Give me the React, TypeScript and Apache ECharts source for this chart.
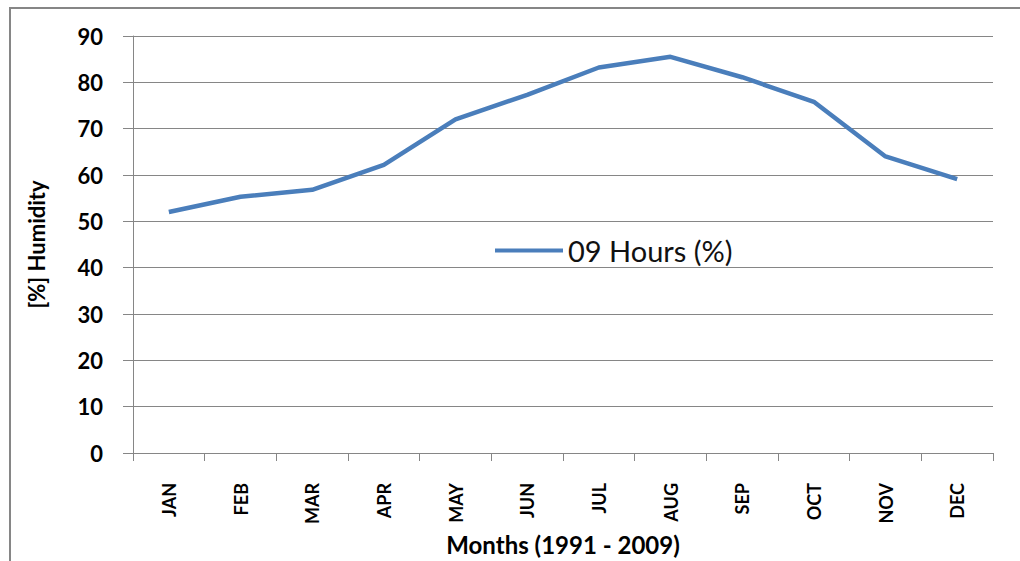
import React, { useEffect, useRef } from "react";
import * as echarts from "echarts";

const months = ["JAN", "FEB", "MAR", "APR", "MAY", "JUN", "JUL", "AUG", "SEP", "OCT", "NOV", "DEC"];
const humidity09 = [52.0, 55.3, 56.8, 62.2, 72.0, 77.3, 83.2, 85.5, 81.1, 75.8, 64.0, 59.1];
const seriesName = "09 Hours (%)";
const yAxisTitle = "[%] Humidity";
const xAxisTitle = "Months (1991 - 2009)";

const FONT = "Lato, 'Open Sans', 'Liberation Sans', sans-serif";
const GRAY = "#868686";
const BLUE = "#4A7EBB";

export default function App() {
  const ref = useRef<HTMLDivElement>(null);
  useEffect(() => {
    if (!ref.current) return;
    const chart = echarts.init(ref.current, undefined, { renderer: "svg" });
    chart.setOption({
      animation: false,
      backgroundColor: "#ffffff",
      graphic: [
        {
          type: "rect",
          shape: { x: 10, y: 8, width: 1100, height: 700 },
          style: { fill: "none", stroke: GRAY, lineWidth: 2 },
          silent: true,
        },
      ],
      grid: { left: 133, right: 27, top: 36, bottom: 108 },
      legend: {
        data: [{ name: seriesName, icon: "rect" }],
        left: 490,
        top: 231,
        itemWidth: 68,
        itemHeight: 4,
        itemGap: 8,
        textStyle: { fontFamily: FONT, fontSize: 29, color: "#111" },
      },
      xAxis: {
        type: "category",
        data: months,
        boundaryGap: true,
        name: xAxisTitle,
        nameLocation: "middle",
        nameGap: 79,
        nameTextStyle: { fontFamily: FONT, fontSize: 24, fontWeight: "bold", color: "#000" },
        axisLine: { lineStyle: { color: GRAY, width: 1 } },
        axisTick: { show: true, length: 8, alignWithLabel: false, lineStyle: { color: GRAY } },
        axisLabel: {
          rotate: 90,
          margin: 30,
          fontFamily: FONT,
          fontSize: 18,
          fontWeight: "bold",
          color: "#000",
        },
      },
      yAxis: {
        type: "value",
        min: 0,
        max: 90,
        interval: 10,
        name: yAxisTitle,
        nameLocation: "middle",
        nameGap: 86,
        nameTextStyle: { fontFamily: FONT, fontSize: 22, fontWeight: "bold", color: "#000" },
        axisLine: { show: true, lineStyle: { color: GRAY, width: 1 } },
        axisTick: { show: true, length: 10, lineStyle: { color: GRAY } },
        axisLabel: {
          margin: 30,
          fontFamily: FONT,
          fontSize: 22,
          fontWeight: "bold",
          color: "#000",
        },
        splitLine: { show: true, lineStyle: { color: GRAY, width: 1.2 } },
      },
      series: [
        {
          name: seriesName,
          type: "line",
          data: humidity09,
          showSymbol: false,
          symbol: "none",
          itemStyle: { color: BLUE },
          lineStyle: { color: BLUE, width: 4.5 },
        },
      ],
    });
    return () => chart.dispose();
  }, []);
  return (
    <div
      ref={ref}
      style={{ position: "fixed", left: 0, top: 0, width: 1020, height: 561, background: "#fff" }}
    />
  );
}
